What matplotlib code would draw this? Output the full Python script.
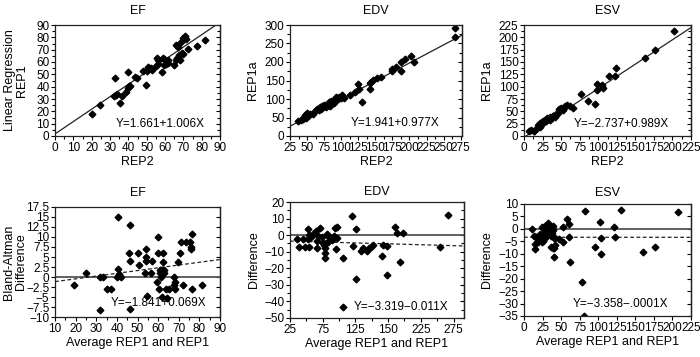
import matplotlib
matplotlib.use('Agg')
import matplotlib.pyplot as plt
from matplotlib import font_manager
from matplotlib.ticker import MultipleLocator, FixedLocator, FixedFormatter
import numpy as np

names = {f.name for f in font_manager.fontManager.ttflist}
fam = [f for f in ['Liberation Sans Narrow', 'Liberation Sans', 'DejaVu Sans'] if f in names]
plt.rcParams['font.family'] = fam
NARROW = bool(fam) and fam[0] == 'Liberation Sans Narrow'

# ---------------- data ----------------
titles = ["EF", "EDV", "ESV"]

ef_rep2 = [20.4, 24.4, 32.5, 32.2, 33.3, 34.0, 35.5, 36.4, 38.6, 39.7, 39.7, 40.3, 41.0, 43.4, 44.5,
           47.8, 49.8, 50.2, 50.6, 51.3, 52.4, 53.1, 55.1, 55.5, 56.4, 56.4, 58.3, 59.0, 59.4, 59.4,
           60.3, 60.8, 61.6, 61.8, 64.9, 65.8, 66.2, 66.7, 67.3, 67.8, 68.2, 68.6, 69.5, 70.0, 70.8,
           71.3, 70.0, 72.8, 77.4, 81.8]
ef_rep1 = [17.6, 25.1, 47.3, 32.4, 33.2, 34.0, 27.0, 32.7, 35.4, 52.2, 39.2, 40.5, 40.8, 47.8, 46.8,
           52.7, 41.4, 52.7, 56.2, 55.4, 54.9, 53.5, 57.0, 63.5, 61.6, 58.1, 52.2, 63.5, 62.2, 57.6,
           61.1, 58.1, 61.6, 59.5, 57.6, 73.8, 61.6, 63.0, 71.9, 65.7, 61.6, 76.5, 67.0, 79.2, 81.4,
           78.4, 66.2, 70.3, 73.2, 77.8]

edv_rep2 = [36.8, 40.8, 44.2, 45.7, 47.2, 48.2, 50.6, 52.1, 54.0, 58.0, 62.0, 64.0, 67.0, 69.0, 70.0,
            72.0, 74.0, 75.0, 78.0, 80.0, 82.0, 83.0, 84.0, 85.0, 87.0, 89.0, 90.0, 93.0, 95.0, 97.0,
            100.0, 101.0, 104.0, 113.0, 120.0, 125.0, 126.0, 130.5, 142.0, 142.5, 144.0, 147.0, 152.0,
            158.0, 174.0, 175.0, 181.0, 188.0, 188.0, 194.0, 202.0, 206.0, 267.0, 267.0]
edv_rep1a = [40.5, 43.0, 46.0, 52.0, 57.0, 48.0, 61.0, 55.0, 59.5, 58.6, 68.5, 73.0, 70.0, 77.5, 72.0,
             82.0, 78.0, 84.0, 79.0, 84.0, 93.0, 82.0, 88.0, 95.0, 91.0, 97.0, 88.0, 106.0, 100.0, 106.0,
             104.0, 111.0, 102.0, 111.0, 118.0, 140.0, 127.0, 93.0, 127.0, 142.0, 147.0, 151.0, 156.0,
             160.0, 181.0, 177.0, 186.0, 176.0, 201.0, 208.0, 217.0, 199.0, 291.0, 268.0]

esv_rep2 = [7.0, 9.0, 13.5, 17.0, 19.4, 21.6, 24.0, 26.0, 28.0, 30.6, 33.0, 35.0, 37.0, 39.6, 42.0,
            44.0, 46.0, 47.7, 49.5, 52.0, 55.0, 58.5, 62.0, 66.6, 77.0, 86.0, 96.0, 99.0, 99.0, 105.0,
            106.0, 115.0, 123.0, 124.0, 163.0, 177.0, 202.0, 14.0, 21.0, 25.5, 30.0, 34.5, 39.0, 43.0]
esv_rep1a = [10.0, 12.0, 11.0, 15.5, 22.0, 25.7, 29.0, 30.0, 32.0, 36.0, 34.0, 39.0, 36.0, 41.0, 39.0,
             44.0, 47.0, 54.0, 56.0, 53.0, 61.0, 63.0, 61.0, 57.0, 86.0, 70.0, 65.0, 105.0, 93.0, 103.0,
             98.0, 122.0, 122.0, 137.0, 159.0, 174.0, 213.0, 10.0, 19.0, 26.0, 29.5, 33.0, 41.0, 44.5]

ef_avg = [19.3, 24.9, 31.9, 33.2, 31.9, 35.2, 37.3, 40.4, 40.4, 41.0, 40.0, 42.1, 46.2, 46.0, 46.2,
          46.2, 50.3, 50.7, 53.5, 54.0, 54.3, 54.0, 54.6, 56.6, 57.0, 59.8, 59.8, 59.5, 60.5, 60.8,
          61.1, 61.3, 62.3, 62.4, 62.1, 62.8, 63.0, 62.1, 63.7, 64.4, 65.4, 67.6, 68.0, 68.1, 67.6,
          69.7, 70.6, 70.9, 72.2, 73.3, 75.4, 75.7, 76.0, 76.6, 76.6, 81.1]
ef_diff = [-2.0, 1.1, 0.0, 0.0, -8.2, -3.0, -3.0, 14.9, 2.0, 0.7, 0.0, 0.0, 12.9, 5.9, 4.0,
           -8.0, 6.0, 3.0, 0.9, 7.0, 5.0, 4.0, -4.7, 1.0, 4.0, 10.0, 5.9, -1.2, -3.0, 1.7,
           1.0, 0.0, 5.9, 3.8, 1.7, 1.7, 1.0, -4.9, -3.0, -5.3, -3.0, 0.0, -1.3, -3.0, -2.0,
           3.8, 5.9, 8.8, -2.0, 8.8, 8.8, 7.0, 7.5, 10.8, -3.0, -2.0]

edv_avg = [36.2, 39.3, 44.4, 48.0, 53.0, 54.6, 53.0, 54.6, 56.6, 60.7, 64.8, 65.8, 65.8, 68.4, 70.9,
           73.5, 76.0, 77.6, 78.6, 79.0, 79.0, 81.1, 80.1, 83.7, 85.2, 88.8, 92.3, 93.9, 96.4, 94.9,
           96.4, 106.6, 106.6, 119.4, 120.9, 126.0, 126.0, 133.7, 137.2, 143.4, 146.4, 149.0, 152.6,
           166.3, 167.9, 174.0, 173.0, 185.7, 189.3, 193.4, 197.4, 254.6, 267.3]
edv_diff = [-2.4, -6.9, -2.4, -7.3, -2.4, -7.3, 3.6, -0.2, -1.4, 0.6, 2.6, -3.4, -7.9, -0.8, 4.3,
            -1.2, -4.5, -5.9, -7.5, -10.9, -13.6, 0.8, -4.9, -4.3, -1.4, -2.8, -0.8, 4.3, 4.9, -8.5,
            -1.8, -13.6, -43.3, 11.7, -6.3, 3.6, -26.5, -9.5, -7.5, -9.5, -7.9, -6.9, -5.9,
            -12.6, -5.9, -6.3, -24.1, 4.7, 1.2, -16.0, 1.2, -7.3, 11.9]

esv_avg = [10.4, 13.5, 14.9, 15.3, 17.1, 19.4, 20.7, 22.5, 23.9, 24.8, 26.0, 26.0, 28.4, 28.4, 29.7,
           30.6, 32.0, 32.9, 34.2, 35.1, 36.0, 37.4, 38.7, 39.6, 40.9, 41.9, 40.5, 41.0, 47.7, 52.2,
           53.1, 58.5, 61.2, 60.3, 62.1, 77.9, 81.0, 82.4, 96.3, 102.6, 103.5, 103.5, 120.6, 122.9,
           131.0, 160.2, 176.0, 207.5, 16.2, 21.6, 27.0, 31.5, 33.3, 36.9, 37.8, 38.7, 41.9]
esv_diff = [-0.1, -2.7, -6.2, -8.0, -3.7, -5.1, -4.0, -3.1, 0.9, -5.1, -4.8, 0.3, 1.3, -1.1, -3.1,
            0.9, -0.4, 2.3, -1.7, 1.3, -7.1, 0.3, 1.3, -7.5, -3.7, -6.4, -7.8, -11.4, -4.1, 0.9,
            -5.1, 4.0, 1.9, -3.3, -13.5, -21.4, -34.9, 7.2, -7.4, 2.7, -3.7, -10.0, 0.8, -3.3,
            7.4, -9.2, -7.4, 6.7, -3.1, -2.2, -3.8, -2.2, -0.8, -2.7, -1.8, -0.4, -3.8]

# regression coefficients (intercept, slope) and their labels
top_coef = [(1.661, 1.006), (1.941, 0.977), (-2.737, 0.989)]
top_eq = ["Y=1.661+1.006X", "Y=1.941+0.977X", "Y=\u22122.737+0.989X"]
bot_coef = [(-1.841, 0.069), (-3.319, -0.011), (-3.358, -0.0001)]
bot_eq = ["Y=\u22121.841+0.069X", "Y=\u22123.319\u22120.011X", "Y=\u22123.358\u2212.0001X"]

# axis settings
top_xlim = [(0, 90), (25, 277), (0, 225)]
top_ylim = [(0, 90), (0, 300), (0, 225)]
top_xstep = [10, 25, 25]
top_ystep = [10, 50, 25]
top_ylabels = ["Linear Regression\nREP1", "REP1a", "REP1a"]

bot_xlim = [(10, 90), (25, 291), (0, 225)]
bot_ylim = [(-10, 17.5), (-50, 20), (-35, 10)]
bot_ystep = [2.5, 10, 5]
bot_ylabels = ["Bland-Altman\nDifference", "Difference", "Difference"]
ef_ba_xticks = [10, 20, 30, 40, 50, 60, 70, 80, 90]
edv_ba_xticks = [25, 75, 125, 175, 225, 275]
edv_ba_xticklabels = ["25", "75", "125", "150", "225", "275"]
esv_ba_xticks = [0, 25, 50, 75, 100, 125, 150, 175, 200, 225]

top_data = [(ef_rep2, ef_rep1), (edv_rep2, edv_rep1a), (esv_rep2, esv_rep1a)]
bot_data = [(ef_avg, ef_diff), (edv_avg, edv_diff), (esv_avg, esv_diff)]

# ---------------- layout ----------------
W, H = 700, 357
fig = plt.figure(figsize=(7.0, 3.57), dpi=100)

def rect(l, r, t, b):
    return [l / W, 1 - b / H, (r - l) / W, (b - t) / H]

top_rects = [rect(55, 220, 25, 136), rect(290, 462, 25, 136), rect(524, 691, 25, 136)]
bot_rects = [rect(55, 220, 207, 317), rect(290, 464, 202, 318), rect(524, 691, 204, 316)]
top_eqpos = [(0.64, 0.11), (0.61, 0.12), (0.58, 0.11)]
bot_eqpos = [(0.63, 0.13), (0.64, 0.095), (0.576, 0.11)]
# y-label right edge (pixels from left) for the EF panels
top_ylx = [28, None, None]
bot_ylx = [27, None, None]
top_ylpad = [9, 4, 4]
bot_ylpad = [8, 3, 4]
top_tpad = [8, 8, 8]
bot_tpad = [8, 5, 6]

FS = 9.5 if NARROW else 8.5
TFS = 9.5 if NARROW else 9

def style(ax):
    for s in ax.spines.values():
        s.set_linewidth(0.9)
        s.set_color('#222222')
    ax.tick_params(axis='both', which='both', direction='out', length=3, width=0.8,
                   labelsize=FS, pad=1, top=False, right=False)
    ax.tick_params(which='minor', length=2)
    sec = ax.secondary_yaxis('right')
    sec.set_yticks(ax.get_yticks())
    sec.yaxis.set_minor_locator(ax.yaxis.get_minor_locator())
    sec.tick_params(which='both', direction='in', length=3, width=0.8, labelright=False)
    sec.tick_params(which='minor', length=2)
    sec.spines['right'].set_linewidth(0.9)

def fmt(v):
    s = ('%g' % v)
    return s.replace('-', '\u2212')

def place_ylabel(ax, rect_, xpx):
    if xpx is not None:
        l = rect_[0] * W
        w = rect_[2] * W
        ax.yaxis.set_label_coords((xpx - l) / w, 0.5)

for i in range(3):
    ax = fig.add_axes(top_rects[i])
    x, y = top_data[i]
    ax.set_xlim(*top_xlim[i])
    ax.set_ylim(*top_ylim[i])
    xs = np.array(top_xlim[i], dtype=float)
    a, b = top_coef[i]
    ax.plot(xs, a + b * xs, color='#222222', lw=0.9)
    ax.plot(x, y, linestyle='none', marker='D', ms=3.4, color='black', mec='black')
    ax.xaxis.set_major_locator(MultipleLocator(top_xstep[i]))
    ax.yaxis.set_major_locator(MultipleLocator(top_ystep[i]))
    ax.yaxis.set_minor_locator(MultipleLocator(top_ystep[i] / 2))
    ax.xaxis.set_minor_locator(MultipleLocator(top_xstep[i] / 2))
    ax.set_title(titles[i], fontsize=TFS, pad=top_tpad[i])
    ax.set_xlabel("REP2", fontsize=TFS, labelpad=2)
    ax.set_ylabel(top_ylabels[i], fontsize=TFS, labelpad=top_ylpad[i], linespacing=1.05)
    place_ylabel(ax, top_rects[i], top_ylx[i])
    ax.text(*top_eqpos[i], top_eq[i], transform=ax.transAxes, ha='center', va='center', fontsize=FS)
    style(ax)

for i in range(3):
    ax = fig.add_axes(bot_rects[i])
    x, y = bot_data[i]
    ax.set_xlim(*bot_xlim[i])
    ax.set_ylim(*bot_ylim[i])
    xs = np.array(bot_xlim[i], dtype=float)
    a, b = bot_coef[i]
    ax.axhline(0, color='#555555', lw=1.3)
    ax.plot(xs, a + b * xs, color='#222222', lw=0.9, linestyle=(0, (3, 2)))
    ax.plot(x, y, linestyle='none', marker='D', ms=3.4, color='black', mec='black')
    yt = np.arange(bot_ylim[i][0], bot_ylim[i][1] + 0.01, bot_ystep[i])
    ax.yaxis.set_major_locator(FixedLocator(yt))
    ax.yaxis.set_major_formatter(FixedFormatter([fmt(v) for v in yt]))
    if i == 0:
        ax.set_xticks(ef_ba_xticks)
        ax.xaxis.set_minor_locator(MultipleLocator(5))
    elif i == 1:
        ax.set_xticks(edv_ba_xticks)
        ax.set_xticklabels(edv_ba_xticklabels)
        ax.xaxis.set_minor_locator(MultipleLocator(25))
        ax.yaxis.set_minor_locator(MultipleLocator(5))
    else:
        ax.set_xticks(esv_ba_xticks)
    ax.set_title(titles[i], fontsize=TFS, pad=bot_tpad[i])
    ax.set_xlabel("Average REP1 and REP1", fontsize=TFS, labelpad=2)
    ax.set_ylabel(bot_ylabels[i], fontsize=TFS, labelpad=bot_ylpad[i], linespacing=1.05)
    place_ylabel(ax, bot_rects[i], bot_ylx[i])
    ax.text(*bot_eqpos[i], bot_eq[i], transform=ax.transAxes, ha='center', va='center', fontsize=FS)
    style(ax)

fig.savefig('out.png', dpi=100)
